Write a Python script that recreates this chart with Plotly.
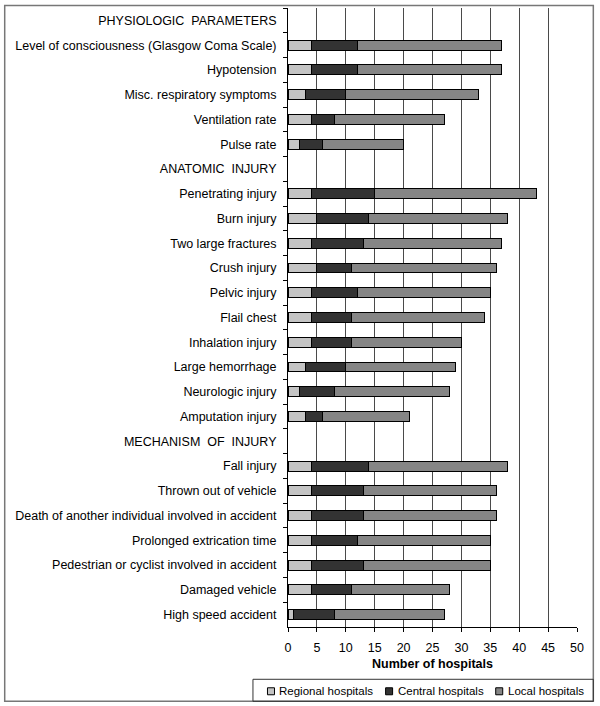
import plotly.graph_objects as go

categories = [
    "PHYSIOLOGIC\u00a0 PARAMETERS",
    "Level of consciousness (Glasgow Coma Scale)",
    "Hypotension",
    "Misc. respiratory symptoms",
    "Ventilation rate",
    "Pulse rate",
    "ANATOMIC\u00a0 INJURY",
    "Penetrating injury",
    "Burn injury",
    "Two large fractures",
    "Crush injury",
    "Pelvic injury",
    "Flail chest",
    "Inhalation injury",
    "Large hemorrhage",
    "Neurologic injury",
    "Amputation injury",
    "MECHANISM\u00a0 OF\u00a0 INJURY",
    "Fall injury",
    "Thrown out of vehicle",
    "Death of another individual involved in accident",
    "Prolonged extrication time",
    "Pedestrian or cyclist involved in accident",
    "Damaged vehicle",
    "High speed accident",
]

regional = [None, 4, 4, 3, 4, 2, None, 4, 5, 4, 5, 4, 4, 4, 3, 2, 3, None, 4, 4, 4, 4, 4, 4, 1]
central  = [None, 8, 8, 7, 4, 4, None, 11, 9, 9, 6, 8, 7, 7, 7, 6, 3, None, 10, 9, 9, 8, 9, 7, 7]
local    = [None, 25, 25, 23, 19, 14, None, 28, 24, 24, 25, 23, 23, 19, 19, 20, 15, None, 24, 23, 23, 23, 22, 17, 19]

series_names = ["Regional hospitals", "Central hospitals", "Local hospitals"]
series_values = [regional, central, local]
series_colors = ["#c4c4c4", "#333333", "#858585"]

x_ticks = [0, 5, 10, 15, 20, 25, 30, 35, 40, 45, 50]

FONT = "Liberation Sans, Arial, sans-serif"

fig = go.Figure()
for name, vals, col in zip(series_names, series_values, series_colors):
    fig.add_trace(go.Bar(
        x=vals, y=categories, name=name, orientation="h",
        marker=dict(color=col, line=dict(color="#000000", width=1)),
        showlegend=False,
    ))

# pixel geometry of the plot area
L, R, T, B = 288.0, 576.7, 7.5, 626.7
W, H = R - L, B - T


def px(xp):
    return (xp - L) / W


def py(yp):
    return (B - yp) / H


shapes = [
    # outer frame
    dict(type="rect", xref="paper", yref="paper", x0=px(5), x1=px(593), y0=py(701), y1=py(5),
         line=dict(color="#777777", width=1.5), layer="below"),
    # legend box
    dict(type="rect", xref="paper", yref="paper", x0=px(253), x1=px(593), y0=py(701), y1=py(679),
         line=dict(color="#333333", width=1)),
]
annotations = []
marker_x = [271, 389, 499]
for name, col, mx in zip(series_names, series_colors, marker_x):
    shapes.append(dict(type="rect", xref="paper", yref="paper",
                       x0=px(mx - 3.5), x1=px(mx + 3.5), y0=py(694.5), y1=py(687.5),
                       fillcolor=col, line=dict(color="#000000", width=1)))
    annotations.append(dict(xref="paper", yref="paper", x=px(mx + 6.5), y=py(691),
                            text=name, showarrow=False, xanchor="left", yanchor="middle",
                            font=dict(family=FONT, size=11.5, color="#000000")))

fig.update_layout(
    barmode="stack",
    bargap=0.6,
    width=600, height=706,
    margin=dict(l=L, r=600 - R, t=T, b=706 - B, pad=0),
    paper_bgcolor="#ffffff",
    plot_bgcolor="#ffffff",
    font=dict(family=FONT, size=12, color="#000000"),
    shapes=shapes,
    annotations=annotations,
    showlegend=False,
)
fig.update_xaxes(
    range=[0, 50], tickvals=x_ticks, ticktext=[str(v) for v in x_ticks],
    showgrid=True, gridcolor="#4a4a4a", gridwidth=1,
    zeroline=False, showline=True, linecolor="#000000", linewidth=1,
    ticks="outside", ticklen=4, tickcolor="#000000",
    ticklabelstandoff=5,
    tickfont=dict(family=FONT, size=12.5, color="#000000"),
    title=dict(text="<b>Number of hospitals</b>", standoff=5,
               font=dict(family=FONT, size=12.5, color="#000000")),
)
fig.update_yaxes(
    autorange="reversed", type="category",
    showgrid=False, zeroline=False,
    showline=True, linecolor="#000000", linewidth=1,
    ticks="outside", ticklen=4, tickcolor="#000000", tickson="boundaries",
    ticklabelstandoff=8,
    tickfont=dict(family=FONT, size=12.5, color="#000000"),
)

fig.write_html(
    "out.html",
    config={"displayModeBar": False},
    post_script="document.body.style.margin='0';document.body.style.overflow='hidden';",
)
